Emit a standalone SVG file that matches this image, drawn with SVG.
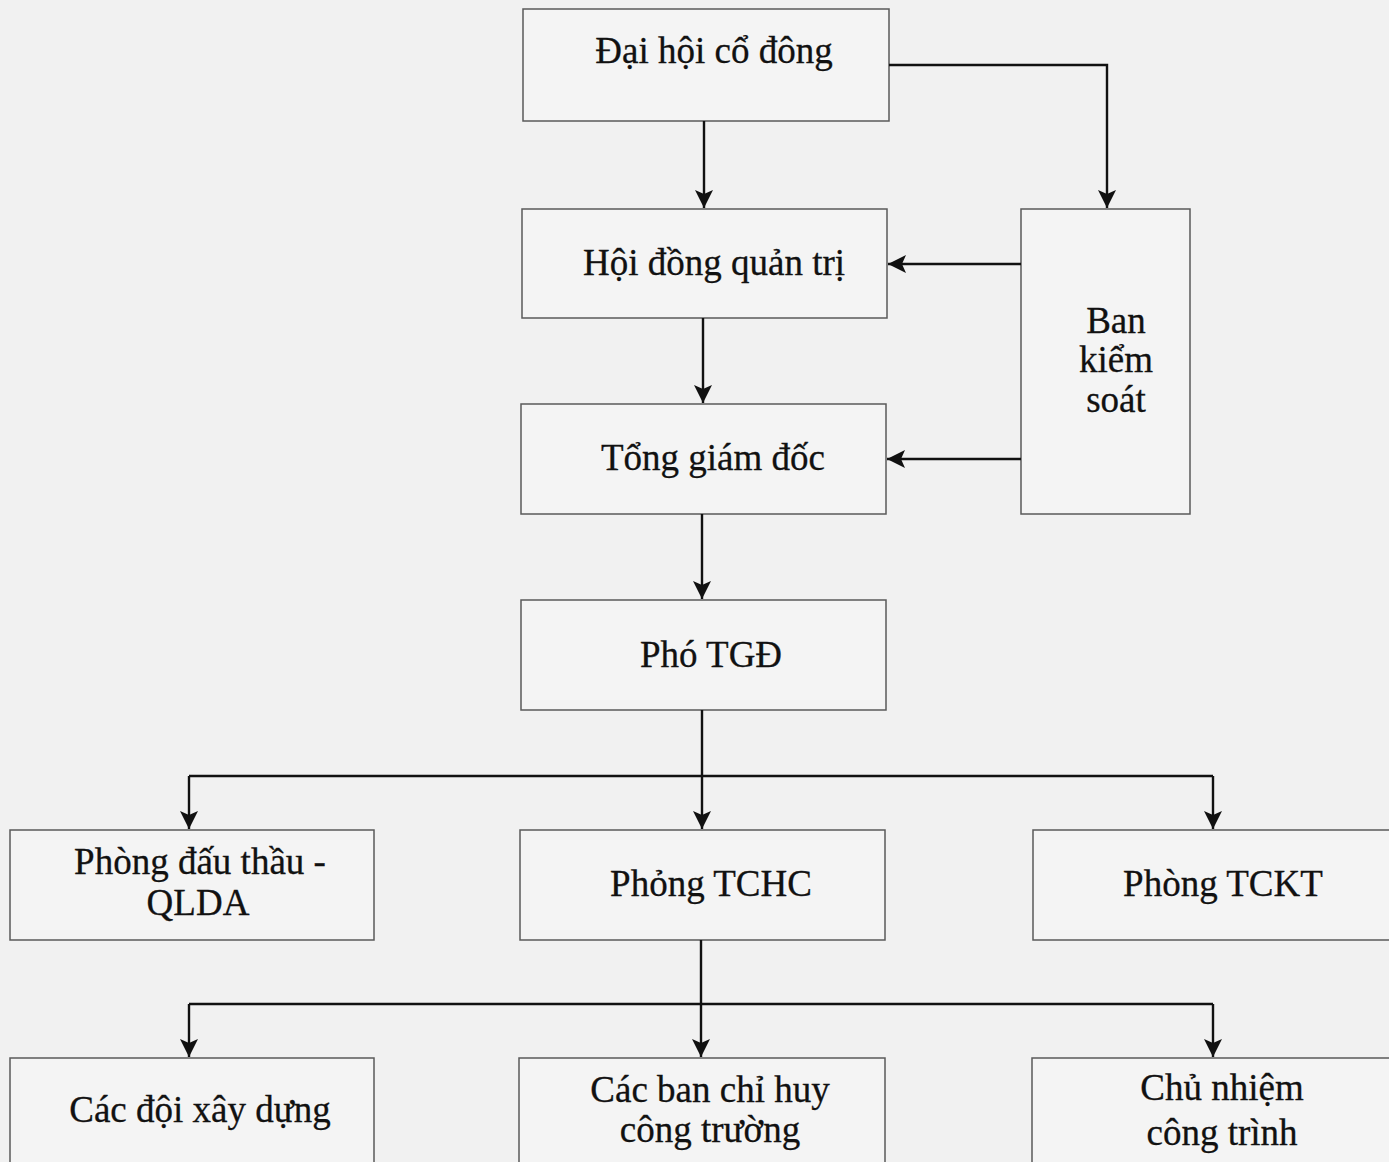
<svg xmlns="http://www.w3.org/2000/svg" width="1389" height="1162" viewBox="0 0 1389 1162">
<style>
.box{fill:#f4f4f4;stroke:#5a5a5a;stroke-width:1.5}
.t{font-family:"Liberation Serif","Times New Roman",serif;font-size:37px;fill:#111;text-anchor:middle;stroke:#111;stroke-width:0.3}
.c{fill:none;stroke:#111;stroke-width:2.4}
</style>
<defs>
<marker id="ah" markerUnits="userSpaceOnUse" markerWidth="18" markerHeight="18" viewBox="0 0 18 18" refX="18" refY="9" orient="auto">
<path d="M0,0 L18,9 L0,18 L4,9 Z" fill="#111"/>
</marker>
</defs>
<rect width="1389" height="1162" fill="#f1f1f1"/>
<g id="n1"><rect class="box" x="523" y="9" width="366" height="112"/><text class="t" x="714" y="63">Đại hội cổ đông</text></g>
<g id="n2"><rect class="box" x="522" y="209" width="365" height="109"/><text class="t" x="714" y="275">Hội đồng quản trị</text></g>
<g id="n3"><rect class="box" x="521" y="404" width="365" height="110"/><text class="t" x="713" y="470">Tổng giám đốc</text></g>
<g id="n4"><rect class="box" x="1021" y="209" width="169" height="305"/><text class="t" x="1116" y="333">Ban</text><text class="t" x="1116" y="372">kiểm</text><text class="t" x="1116" y="412">soát</text></g>
<g id="n5"><rect class="box" x="521" y="600" width="365" height="110"/><text class="t" x="711" y="667">Phó TGĐ</text></g>
<g id="n6"><rect class="box" x="10" y="830" width="364" height="110"/><text class="t" x="200" y="874">Phòng đấu thầu -</text><text class="t" x="198" y="915">QLDA</text></g>
<g id="n7"><rect class="box" x="520" y="830" width="365" height="110"/><text class="t" x="711" y="896">Phỏng TCHC</text></g>
<g id="n8"><rect class="box" x="1033" y="830" width="366" height="110"/><text class="t" x="1223" y="896">Phòng TCKT</text></g>
<g id="n9"><rect class="box" x="10" y="1058" width="364" height="120"/><text class="t" x="200" y="1122">Các đội xây dựng</text></g>
<g id="n10"><rect class="box" x="519" y="1058" width="366" height="120"/><text class="t" x="710" y="1102">Các ban chỉ huy</text><text class="t" x="710" y="1142">công trường</text></g>
<g id="n11"><rect class="box" x="1032" y="1058" width="367" height="120"/><text class="t" x="1222" y="1100">Chủ nhiệm</text><text class="t" x="1222" y="1145">công trình</text></g>
<g id="connectors">
<path class="c" d="M704,121 V208" marker-end="url(#ah)"/>
<path class="c" d="M889,65 H1107 V208" marker-end="url(#ah)"/>
<path class="c" d="M1021,264 H888" marker-end="url(#ah)"/>
<path class="c" d="M1021,459 H887" marker-end="url(#ah)"/>
<path class="c" d="M703,318 V403" marker-end="url(#ah)"/>
<path class="c" d="M702,514 V599" marker-end="url(#ah)"/>
<path class="c" d="M702,710 V829" marker-end="url(#ah)"/>
<path class="c" d="M189,776 H1213"/>
<path class="c" d="M189,776 V829" marker-end="url(#ah)"/>
<path class="c" d="M1213,776 V829" marker-end="url(#ah)"/>
<path class="c" d="M701,940 V1057" marker-end="url(#ah)"/>
<path class="c" d="M189,1004 H1213"/>
<path class="c" d="M189,1004 V1057" marker-end="url(#ah)"/>
<path class="c" d="M1213,1004 V1057" marker-end="url(#ah)"/>
</g>
</svg>
